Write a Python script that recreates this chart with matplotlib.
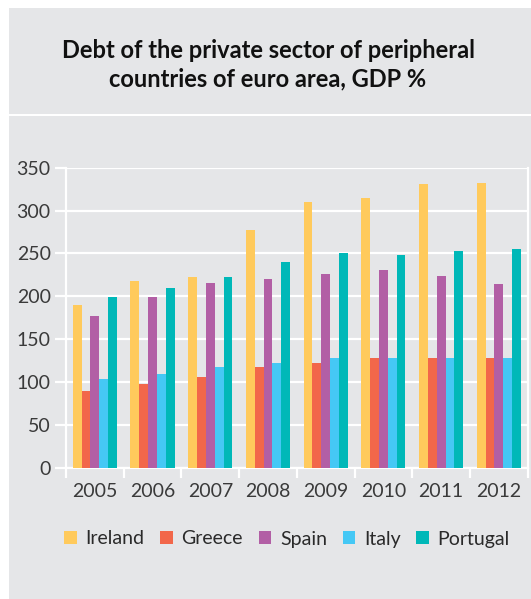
import numpy as np
import matplotlib.pyplot as plt
from matplotlib.patches import Rectangle

plt.rcParams['font.family'] = ['Lato', 'DejaVu Sans']

years = ['2005', '2006', '2007', '2008', '2009', '2010', '2011', '2012']
ireland = [190, 218, 222, 277, 310, 315, 331, 332]
greece = [90, 98, 106, 118, 122, 128, 128, 128]
spain = [177, 199, 215, 220, 226, 231, 224, 214]
italy = [104, 109, 118, 122, 128, 128, 128, 128]
portugal = [199, 210, 222, 240, 250, 248, 253, 255]

names = ['Ireland', 'Greece', 'Spain', 'Italy', 'Portugal']
colors = ['#FFCA5C', '#F2674A', '#B25FA5', '#45C8F5', '#00B8B8']
bg = '#E5E6E8'

W, H = 531, 599
fig = plt.figure(figsize=(W / 100, H / 100), dpi=100, facecolor='white')

# grey panels behind title and chart
fig.patches.append(Rectangle((9 / W, 1 - 114 / H), 1, 106 / H, transform=fig.transFigure,
                             facecolor=bg, edgecolor='none', zorder=-10))
fig.patches.append(Rectangle((9 / W, 0), 1, 1 - 116 / H, transform=fig.transFigure,
                             facecolor=bg, edgecolor='none', zorder=-10))

fig.text(268 / W, 1 - 65 / H, 'Debt of the private sector of peripheral\ncountries of euro area, GDP %',
         ha='center', va='center', fontsize=17, fontweight='bold', color='#111111',
         linespacing=1.3)

ax = fig.add_axes([66 / W, (H - 467.7) / H, (527.7 - 66) / W, 300 / H])
ax.set_facecolor(bg)

series = [ireland, greece, spain, italy, portugal]
x = np.arange(len(years))
bw = 0.153
for i, (vals, name, c) in enumerate(zip(series, names, colors)):
    ax.bar(x + (i - 2) * bw, vals, width=bw, color=c, label=name, zorder=3)

ax.set_ylim(0, 350)
ax.set_xlim(-0.5, len(years) - 0.5)
ax.set_yticks(range(0, 351, 50))
ax.yaxis.grid(True, color='white', linewidth=1.6, zorder=1)
ax.set_axisbelow(True)

ax.set_xticks(np.arange(-0.5, len(years), 1))
ax.set_xticklabels([])
ax.set_xticks(x, minor=True)
ax.set_xticklabels(years, minor=True)
ax.tick_params(axis='x', which='major', length=7, width=1.6, color='white')
ax.tick_params(axis='x', which='minor', length=0, pad=11, labelsize=14, labelcolor='#3a3a3a')
ax.tick_params(axis='y', length=8, width=1.6, color='white', labelsize=14, labelcolor='#3a3a3a', pad=3)

for side in ['left', 'right', 'bottom', 'top']:
    ax.spines[side].set_color('white')
    ax.spines[side].set_linewidth(1.6)
ax.spines['top'].set_visible(False)

leg = fig.legend(loc='center', bbox_to_anchor=(287 / W, 1 - 539 / H), ncol=5, frameon=False,
                 fontsize=14, handlelength=0.65, handleheight=0.65,
                 handletextpad=0.45, columnspacing=0.8, labelcolor='#2a2a2a')

fig.savefig('out.png', dpi=100, facecolor='white')
